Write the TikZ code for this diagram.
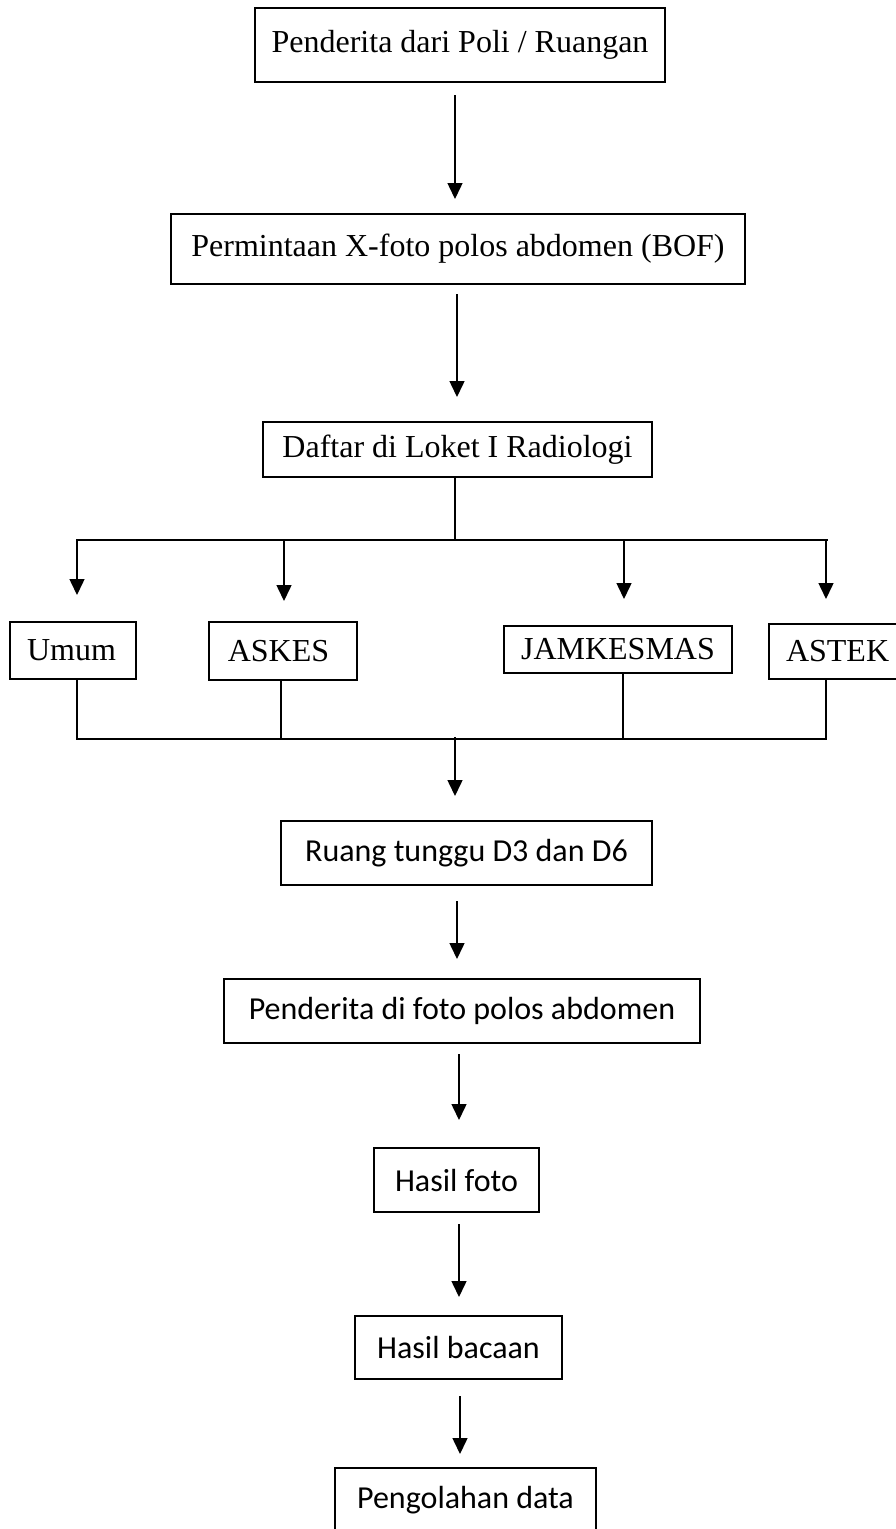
\documentclass[tikz,border=0pt]{standalone}
\usepackage{fontspec}
\setmainfont{Liberation Serif}
\newfontfamily\calfont{Carlito}
\usetikzlibrary{arrows.meta}
\begin{document}
\begin{tikzpicture}[x=1pt,y=-1pt,
  box/.style={draw,line width=2pt,inner sep=0pt,font=\fontsize{32}{38}\selectfont},
  cbox/.style={box,font=\calfont\fontsize{32}{38}\selectfont},
  arr/.style={line width=1.5pt,-{Triangle[width=15pt,length=16pt]}},
  ln/.style={line width=1.8pt}]
\useasboundingbox (0,0) rectangle (895,1529);
\fill[white] (0,0) rectangle (895,1529);
% boxes
\node[box,minimum width=410pt,minimum height=74pt] (b1) at (460,45) {Penderita dari Poli / Ruangan};
\node[box,minimum width=574pt,minimum height=70pt] (b2) at (458,249) {Permintaan X-foto polos abdomen (BOF)};
\node[box,minimum width=389pt,minimum height=55pt] (b3) at (457.5,449.5) {Daftar di Loket I Radiologi};
\node[box,minimum width=126pt,minimum height=57pt] (umum) at (73,650.5) {\hspace*{-3pt}Umum};
\node[box,minimum width=148pt,minimum height=58pt] (askes) at (283,651) {ASKES\hspace*{9pt}};
\node[box,minimum width=228pt,minimum height=47pt] (jam) at (618,649.5) {JAMKESMAS};
\node[box,minimum width=136pt,minimum height=55pt,text width=126pt,align=left] (astek) at (837,651.5) {\hspace*{12pt}ASTEK};
\node[cbox,minimum width=371pt,minimum height=64pt] (ruang) at (466.5,853) {Ruang tunggu D3 dan D6};
\node[cbox,minimum width=476pt,minimum height=64pt] (foto) at (462,1011) {Penderita di foto polos abdomen};
\node[cbox,minimum width=165pt,minimum height=64pt] (hfoto) at (456.5,1180) {Hasil foto};
\node[cbox,minimum width=207pt,minimum height=63pt] (hbaca) at (458.5,1347.5) {Hasil bacaan};
\node[cbox,minimum width=261pt,minimum height=64pt] (olah) at (465.5,1500) {Pengolahan data};
% columns
\coordinate (c1) at (455,0);
\coordinate (c2) at (457,0);
\coordinate (c3) at (459,0);
\coordinate (c4) at (460,0);
\coordinate (bl) at (76,540);
\coordinate (br) at (828,540);
\coordinate (bm) at (455,540);
\coordinate (dl) at (76,739);
\coordinate (dr) at (827,739);
\coordinate (dm) at (455,739);
\coordinate (u0) at (77,540);
\coordinate (a0) at (284,540);
\coordinate (j0) at (624,540);
\coordinate (s0) at (826,540);
% main arrows
\draw[arr,shorten <=12pt,shorten >=14pt] (b1.south -| c1) -- (b2.north -| c1);
\draw[arr,shorten <=9pt,shorten >=24pt] (b2.south -| c2) -- (b3.north -| c2);
\draw[ln] (b3.south -| bm) -- (bm);
\draw[ln] (bl) -- (br);
\draw[arr] (u0) -- ([yshift=26pt]u0 |- umum.north);
\draw[arr] (a0) -- ([yshift=20pt]a0 |- askes.north);
\draw[arr] (j0) -- ([yshift=26pt]j0 |- jam.north);
\draw[arr] (s0) -- ([yshift=24pt]s0 |- astek.north);
% lower bus
\draw[ln] (umum.south -| 77,0) -- (77,739);
\draw[ln] (askes.south -| 281,0) -- (281,739);
\draw[ln] (jam.south -| 623,0) -- (623,739);
\draw[ln] (astek.south -| 826,0) -- (826,739);
\draw[ln] (dl) -- (dr);
\draw[arr,shorten >=24pt] ([yshift=2pt]dm) -- (ruang.north -| dm);
\draw[arr,shorten <=15pt,shorten >=19pt] (ruang.south -| c2) -- (foto.north -| c2);
\draw[arr,shorten <=10pt,shorten >=27pt] (foto.south -| c3) -- (hfoto.north -| c3);
\draw[arr,shorten <=11pt,shorten >=18pt] (hfoto.south -| c3) -- (hbaca.north -| c3);
\draw[arr,shorten <=16pt,shorten >=13pt] (hbaca.south -| c4) -- (olah.north -| c4);
\end{tikzpicture}
\end{document}
